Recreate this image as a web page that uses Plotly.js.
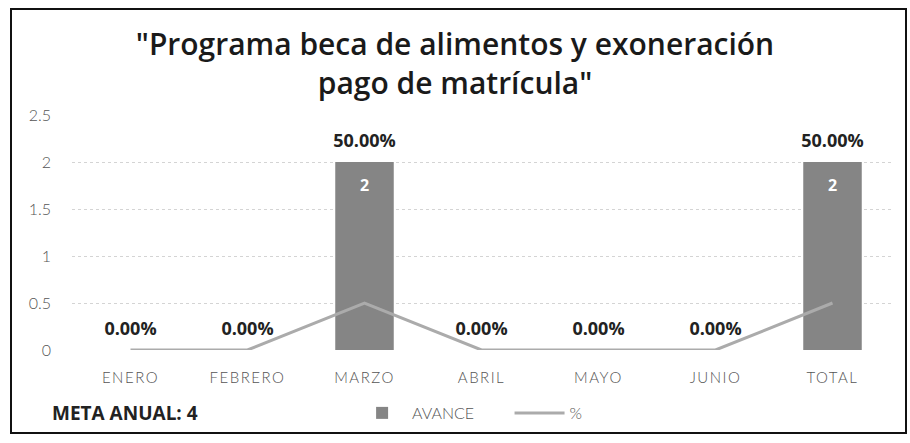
<!DOCTYPE html>
<html>
<head>
<meta charset="utf-8">
<script src="https://cdn.plot.ly/plotly-3.0.1.min.js"></script>
<style>
    body { margin: 0; background: #fff; }
    #frame { position: absolute; left: 10px; top: 8px; width: 893px; height: 422px; border: 2px solid #111; }
    #chart { position: absolute; left: 0; top: 0; width: 910px; height: 443px; }
    #chart .xtick text { letter-spacing: 1.5px; }
</style>
</head>
<body>
<div id="frame"></div>
<div id="chart"></div>
<script>
const MESES = ['ENERO', 'FEBRERO', 'MARZO', 'ABRIL', 'MAYO', 'JUNIO', 'TOTAL'];
const AVANCE = [0, 0, 2, 0, 0, 0, 2];
const PORCENTAJE = [0, 0, 0.5, 0, 0, 0, 0.5];
const META_ANUAL = 4;

const pctLabels = PORCENTAJE.map(p => (p * 100).toFixed(2) + '%');

const data = [
    {
        type: 'bar',
        // espacios duros para separar las entradas de la leyenda
        name: 'AVANCE\u00a0\u00a0\u00a0\u00a0\u00a0\u00a0\u00a0',
        x: MESES,
        y: AVANCE,
        marker: { color: '#858585', line: { width: 0 } },
        hoverinfo: 'skip'
    },
    {
        type: 'scatter',
        mode: 'lines',
        name: '%',
        x: MESES,
        y: PORCENTAJE,
        line: { color: '#ababab', width: 3 },
        hoverinfo: 'skip'
    },
    {
        // valor dentro de la columna
        type: 'scatter',
        mode: 'markers+text',
        x: MESES,
        y: AVANCE,
        text: AVANCE.map(v => v ? String(v) : ''),
        textposition: 'bottom center',
        textfont: { family: 'Open Sans', size: 16, color: '#fff', weight: 700 },
        marker: { size: 26, color: 'rgba(0,0,0,0)' },
        showlegend: false,
        hoverinfo: 'skip'
    },
    {
        // etiquetas de porcentaje sobre cada columna
        type: 'scatter',
        mode: 'markers+text',
        x: MESES,
        y: AVANCE,
        text: pctLabels,
        textposition: 'top center',
        textfont: { family: 'Open Sans', size: 18, color: '#222', weight: 700 },
        marker: { size: 16, color: 'rgba(0,0,0,0)' },
        showlegend: false,
        hoverinfo: 'skip'
    }
];

const layout = {
    width: 910,
    height: 443,
    margin: { l: 72, r: 19, t: 115, b: 93 },
    paper_bgcolor: 'rgba(0,0,0,0)',
    plot_bgcolor: 'rgba(0,0,0,0)',
    title: {
        text: '"Programa beca de alimentos y exoneración<br>pago de matrícula"',
        font: { family: 'Open Sans', size: 30, color: '#1a1a1a', weight: 600 },
        x: 0.5,
        xanchor: 'center',
        yref: 'container',
        y: 0.875,
        yanchor: 'middle'
    },
    bargap: 0.5,
    xaxis: {
        tickfont: { family: 'Lato', size: 15, color: '#555', weight: 300 },
        showgrid: false,
        zeroline: false,
        showline: false,
        ticks: '',
        ticklabelstandoff: 17,
        fixedrange: true
    },
    yaxis: {
        range: [0, 2.5],
        dtick: 0.5,
        tickfont: { family: 'Lato', size: 16, color: '#555', weight: 300 },
        gridcolor: '#d4d4d4',
        griddash: 'dot',
        zeroline: false,
        showline: false,
        ticks: '',
        ticklabelstandoff: 20,
        fixedrange: true
    },
    legend: {
        orientation: 'h',
        x: 0.342,
        xanchor: 'left',
        y: -0.268,
        yanchor: 'middle',
        font: { family: 'Lato', size: 16, color: '#555', weight: 300 },
        itemwidth: 50
    },
    annotations: [
        {
            text: 'META ANUAL: ' + META_ANUAL,
            xref: 'paper',
            yref: 'paper',
            x: -0.027,
            xanchor: 'left',
            y: -0.268,
            yanchor: 'middle',
            showarrow: false,
            font: { family: 'Open Sans', size: 19, color: '#222', weight: 700 }
        }
    ]
};

Plotly.newPlot('chart', data, layout, { displayModeBar: false, staticPlot: true });
</script>
</body>
</html>
